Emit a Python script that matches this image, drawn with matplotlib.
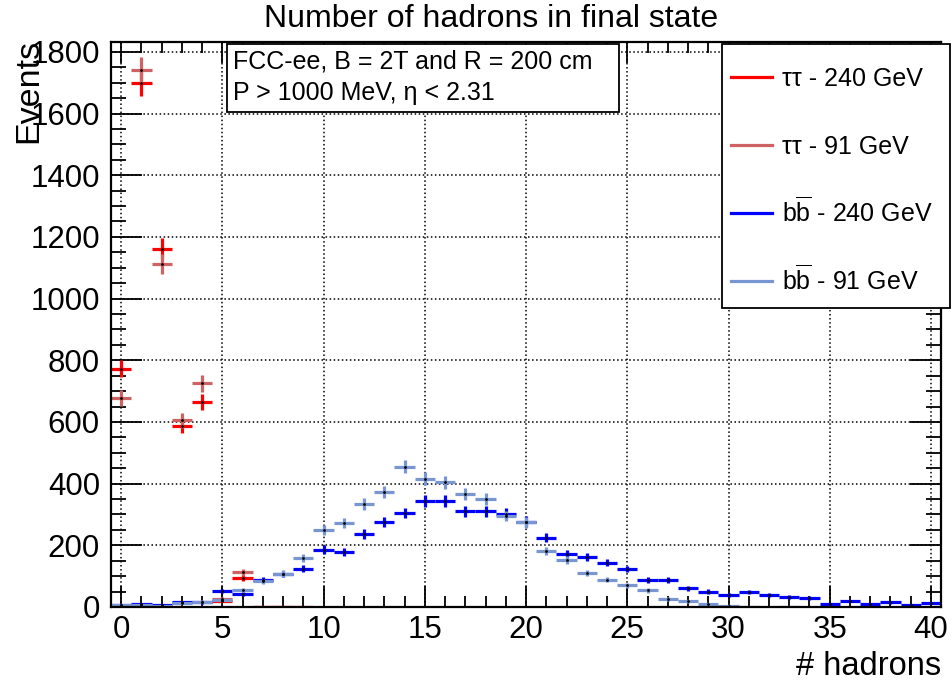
import numpy as np
import matplotlib
matplotlib.use('Agg')
import matplotlib.pyplot as plt
from matplotlib.lines import Line2D
from matplotlib.patches import Rectangle
from matplotlib.ticker import MultipleLocator

plt.rcParams['font.family'] = ['Liberation Sans', 'DejaVu Sans']
plt.rcParams['mathtext.fontset'] = 'custom'
plt.rcParams['mathtext.rm'] = 'Liberation Sans'
plt.rcParams['mathtext.it'] = 'Liberation Sans:italic'

# Data (bin centres = number of hadrons)
n_tt240 = np.arange(0, 10)
tt240 = [773, 1698, 1162, 587, 666, 20, 94, 0, 0, 0]
n_tt91 = np.arange(0, 9)
tt91 = [678, 1741, 1112, 605, 725, 27, 112, 0, 0]
n_bb240 = np.arange(0, 41)
bb240 = [8, 10, 6, 16, 15, 51, 43, 87, 106, 124, 186, 177, 237, 276, 305,
         344, 343, 311, 311, 303, 277, 225, 173, 162, 144, 123, 88, 88, 60,
         50, 38, 48, 40, 32, 29, 11, 19, 10, 15, 7, 12]
n_bb91 = np.arange(0, 34)
bb91 = [6, 8, 3, 13, 17, 23, 55, 83, 108, 159, 249, 273, 334, 374, 455, 416,
        404, 367, 351, 295, 274, 182, 152, 110, 89, 70, 54, 26, 18, 10, 4, 0,
        np.nan, 0]

labels = ['\u03c4\u03c4 - 240 GeV', '\u03c4\u03c4 - 91 GeV',
          r'b$\overline{\mathrm{b}}$ - 240 GeV',
          r'b$\overline{\mathrm{b}}$ - 91 GeV']
colors = ['#ff0000', '#cf6262', '#0000ff', '#7896d2']
series = [(n_tt240, tt240), (n_tt91, tt91), (n_bb240, bb240), (n_bb91, bb91)]

W, H = 953, 683
fig = plt.figure(figsize=(W / 100, H / 100), dpi=100)
ax = fig.add_axes([0.1165, 0.1113, 0.871, 0.8272])

for (x, y), c in zip(series, colors):
    y = np.array(y, dtype=float)
    ax.errorbar(x, y, xerr=0.5, yerr=np.sqrt(np.nan_to_num(y)), fmt='.',
                color=c, ecolor=c, elinewidth=2.3, capsize=0,
                markersize=2, mfc='k', mec='k')

ax.set_xlim(-0.5, 40.5)
ax.set_ylim(0, 1832)
ax.xaxis.set_major_locator(MultipleLocator(5))
ax.xaxis.set_minor_locator(MultipleLocator(1))
ax.yaxis.set_major_locator(MultipleLocator(200))
ax.yaxis.set_minor_locator(MultipleLocator(50))
ax.tick_params(which='both', direction='in', top=True, right=True,
               width=1.3, labelsize=22.5)
ax.tick_params(which='major', length=15)
ax.tick_params(which='minor', length=8)
ax.tick_params(axis='y', which='major', length=22)
ax.tick_params(axis='y', which='minor', length=11)
ax.tick_params(axis='y', pad=8)
ax.tick_params(axis='x', pad=6)
ax.grid(True, which='major', color='black', linestyle=':', linewidth=1.1)
for s in ax.spines.values():
    s.set_linewidth(1.6)

ax.set_xlabel('# hadrons', fontsize=23.5, loc='right')
ax.xaxis.label.set_va('baseline')
ax.xaxis.set_label_coords(1.0, -0.121)
ax.set_ylabel('Events', fontsize=24.5, loc='top')
ax.yaxis.set_label_coords(-0.08, 1.005)

fig.text(0.515, 0.972, 'Number of hadrons in final state', fontsize=23,
         ha='center', va='center')

# info box
fig.patches.append(Rectangle((227 / W, 1 - 112 / H), 392 / W, 68 / H,
                             transform=fig.transFigure, facecolor='white',
                             edgecolor='black', linewidth=1.3, zorder=5))
fig.text(233 / W, 1 - 62 / H, 'FCC-ee, B = 2T and R = 200 cm',
         fontsize=18, va='center', zorder=6)
fig.text(233 / W, 1 - 93 / H, 'P > 1000 MeV, \u03b7 < 2.31',
         fontsize=18, va='center', zorder=6)

# legend box (ROOT style, drawn by hand)
fig.patches.append(Rectangle((722 / W, 1 - 308 / H), 228 / W, 264 / H,
                             transform=fig.transFigure, facecolor='white',
                             edgecolor='black', linewidth=1.3, zorder=5))
for i, (lab, c) in enumerate(zip(labels, colors)):
    yc = 77 + 68 * i
    fig.add_artist(Line2D([731 / W, 772 / W], [1 - yc / H, 1 - yc / H],
                          color=c, lw=2.3, transform=fig.transFigure,
                          zorder=6))
    fig.text(782 / W, 1 - (yc + 9) / H, lab, fontsize=18, va='baseline',
             zorder=6)

fig.savefig('out.png', dpi=100)
